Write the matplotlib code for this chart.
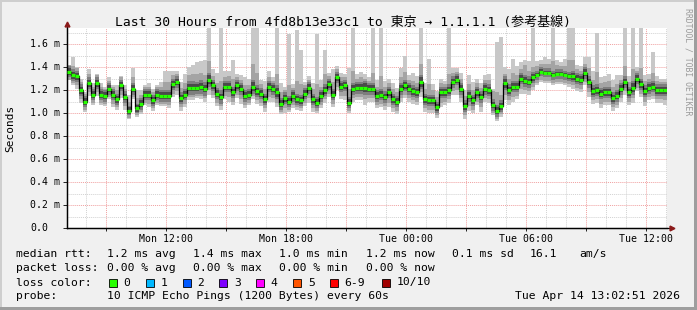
import numpy as np
import matplotlib
matplotlib.use('Agg')
import matplotlib.pyplot as plt
import matplotlib.transforms as mtransforms
from matplotlib.patches import Rectangle

mono = 'DejaVu Sans Mono'
W, H = 697, 310

# median rtt per 12 min step (ms), Mon 07:02 -> Tue 13:02
med = [1.36, 1.33, 1.32, 1.20, 1.10, 1.26, 1.16, 1.26, 1.16, 1.15,
       1.21, 1.16, 1.12, 1.24, 1.14, 1.02, 1.21, 1.04, 1.08, 1.16,
       1.16, 1.11, 1.16, 1.15, 1.15, 1.15, 1.25, 1.27, 1.13, 1.16,
       1.22, 1.22, 1.22, 1.23, 1.21, 1.29, 1.24, 1.17, 1.14, 1.23,
       1.23, 1.18, 1.24, 1.21, 1.15, 1.16, 1.23, 1.19, 1.17, 1.12,
       1.23, 1.21, 1.18, 1.08, 1.13, 1.10, 1.15, 1.12, 1.11, 1.17,
       1.22, 1.12, 1.09, 1.15, 1.20, 1.25, 1.16, 1.31, 1.23, 1.24,
       1.09, 1.21, 1.22, 1.22, 1.22, 1.21, 1.21, 1.15, 1.16, 1.14,
       1.18, 1.12, 1.10, 1.21, 1.24, 1.21, 1.19, 1.18, 1.27, 1.12,
       1.11, 1.11, 1.05, 1.18, 1.18, 1.20, 1.27, 1.29, 1.21, 1.06,
       1.15, 1.11, 1.18, 1.14, 1.21, 1.20, 1.07, 1.02, 1.06, 1.26,
       1.20, 1.23, 1.23, 1.30, 1.28, 1.27, 1.31, 1.33, 1.36, 1.35,
       1.35, 1.33, 1.34, 1.34, 1.33, 1.32, 1.32, 1.30, 1.29, 1.35,
       1.27, 1.19, 1.20, 1.17, 1.18, 1.18, 1.13, 1.15, 1.21, 1.27,
       1.18, 1.22, 1.30, 1.25, 1.19, 1.22, 1.23, 1.20, 1.20, 1.20]

# smoke spread around the median, in 1/100 ms
# slowest ping (p10) above median
up_out = [6, 16, 8, 10, 8, 12, 10, 8, 10, 8,
          10, 8, 12, 8, 10, 14, 18, 16, 12, 8,
          10, 10, 8, 12, 22, 22, 12, 10, 14, 18,
          18, 20, 22, 22, 25, 60, 14, 18, 60, 14,
          14, 28, 10, 12, 16, 14, 60, 60, 12, 16,
          14, 10, 60, 18, 10, 59, 10, 60, 44, 10,
          10, 14, 60, 14, 35, 10, 22, 10, 12, 10,
          30, 60, 12, 14, 12, 10, 60, 14, 60, 14,
          12, 14, 12, 18, 26, 12, 16, 14, 60, 14,
          36, 14, 14, 12, 10, 60, 12, 10, 14, 14,
          18, 16, 12, 12, 12, 14, 14, 60, 60, 14,
          18, 24, 18, 14, 18, 18, 60, 12, 10, 14,
          12, 60, 12, 10, 14, 60, 60, 12, 12, 14,
          22, 18, 50, 14, 14, 16, 16, 18, 12, 60,
          14, 60, 10, 60, 14, 12, 30, 12, 10, 10]
# fastest ping (p1) below median
dn_out = [7, 9, 11, 11, 9, 11, 9, 11, 9, 9,
          9, 11, 9, 11, 11, 7, 9, 7, 9, 9,
          11, 9, 9, 9, 9, 11, 11, 11, 11, 11,
          11, 11, 9, 11, 11, 13, 11, 11, 11, 11,
          13, 11, 11, 13, 11, 9, 11, 11, 11, 11,
          13, 11, 13, 9, 13, 9, 11, 9, 9, 11,
          13, 11, 9, 11, 11, 11, 11, 11, 11, 13,
          9, 11, 11, 11, 15, 11, 11, 11, 11, 11,
          13, 11, 11, 11, 11, 11, 11, 11, 13, 11,
          11, 11, 9, 13, 11, 11, 11, 13, 11, 11,
          13, 11, 11, 13, 11, 11, 9, 9, 9, 15,
          13, 13, 11, 13, 11, 11, 11, 9, 9, 9,
          9, 9, 9, 9, 9, 9, 11, 11, 11, 11,
          13, 11, 11, 13, 11, 11, 11, 11, 11, 11,
          11, 13, 11, 11, 13, 11, 11, 11, 11, 13]
# p9 / p2
up_mid = [6, 8, 7, 7, 7, 8, 7, 7, 7, 6, 7, 7, 8, 7, 7, 8,
          10, 9, 8, 7, 7, 7, 7, 8, 12, 12, 8, 7, 9, 10, 11, 12,
          12, 12, 12, 16, 8, 9, 14, 8, 9, 12, 7, 8, 9, 8, 20, 16,
          8, 9, 8, 7, 16, 10, 7, 14, 7, 16, 14, 7, 7, 9, 16, 8,
          14, 7, 11, 7, 8, 7, 12, 16, 8, 9, 8, 7, 14, 8, 16, 9,
          8, 9, 8, 10, 12, 8, 9, 8, 16, 9, 14, 9, 9, 8, 7, 14,
          8, 7, 9, 9, 10, 9, 8, 8, 8, 9, 12, 16, 10, 8, 10, 12,
          10, 8, 14, 10, 9, 8, 7, 8, 8, 12, 8, 7, 8, 14, 14, 8,
          8, 8, 12, 10, 16, 9, 9, 10, 10, 10, 8, 14, 9, 16, 7, 14,
          9, 8, 12, 8, 7, 7]
dn_mid = [7, 7, 8, 8, 7, 8, 7, 8, 7, 7, 7, 8, 7, 8, 8, 6,
          7, 6, 7, 7, 8, 7, 7, 7, 7, 8, 8, 8, 8, 8, 8, 8,
          7, 8, 8, 9, 8, 8, 8, 8, 9, 8, 8, 9, 8, 7, 8, 8,
          8, 8, 9, 8, 9, 7, 9, 7, 8, 7, 7, 8, 9, 8, 7, 8,
          8, 8, 8, 8, 8, 9, 7, 8, 8, 8, 10, 8, 8, 8, 8, 8,
          9, 8, 8, 8, 8, 8, 8, 8, 9, 8, 8, 8, 7, 9, 8, 8,
          8, 9, 8, 8, 9, 8, 8, 9, 8, 8, 7, 7, 7, 10, 9, 9,
          8, 9, 8, 8, 8, 7, 7, 7, 7, 7, 7, 7, 7, 7, 8, 8,
          8, 8, 9, 8, 8, 9, 8, 8, 8, 8, 8, 8, 8, 9, 8, 8,
          9, 8, 8, 8, 8, 9]
# p8 / p3 and p7 / p4 half widths
dark = [5, 5, 5, 5, 5, 5, 5, 5, 5, 5, 5, 5, 5, 5, 5, 4,
        5, 4, 5, 5, 5, 5, 5, 5, 5, 5, 5, 5, 5, 5, 6, 6,
        5, 6, 6, 6, 5, 5, 6, 5, 5, 5, 5, 5, 5, 5, 6, 5,
        5, 5, 5, 5, 6, 5, 5, 5, 5, 5, 5, 5, 5, 5, 5, 5,
        5, 5, 5, 5, 5, 5, 5, 5, 5, 5, 6, 5, 5, 5, 5, 5,
        5, 5, 5, 5, 5, 5, 5, 5, 6, 5, 5, 5, 5, 5, 5, 5,
        5, 5, 5, 5, 5, 5, 5, 5, 5, 5, 5, 5, 5, 6, 5, 5,
        5, 5, 5, 5, 5, 4, 4, 4, 4, 4, 4, 4, 4, 4, 5, 5,
        5, 5, 5, 5, 5, 5, 5, 5, 5, 5, 5, 5, 5, 6, 5, 5,
        5, 5, 5, 5, 5, 5]
core = [3, 3, 3, 3, 3, 3, 3, 3, 3, 3, 3, 3, 3, 3, 3, 3,
        3, 3, 3, 3, 3, 3, 3, 3, 3, 3, 3, 3, 3, 3, 3, 3,
        3, 3, 3, 4, 3, 3, 3, 3, 3, 3, 3, 3, 3, 3, 4, 3,
        3, 3, 3, 3, 4, 3, 3, 3, 3, 3, 3, 3, 3, 3, 3, 3,
        3, 3, 3, 3, 3, 3, 3, 3, 3, 3, 4, 3, 3, 3, 3, 3,
        3, 3, 3, 3, 3, 3, 3, 3, 4, 3, 3, 3, 3, 3, 3, 3,
        3, 3, 3, 3, 3, 3, 3, 3, 3, 3, 3, 3, 3, 4, 3, 3,
        3, 3, 3, 3, 3, 2, 2, 2, 2, 2, 2, 2, 2, 2, 3, 3,
        3, 3, 3, 3, 3, 3, 3, 3, 3, 3, 3, 3, 3, 4, 3, 3,
        3, 3, 3, 3, 3, 3]

xtick_labels = {12: 'Mon 12:00', 18: 'Mon 18:00', 24: 'Tue 00:00',
                30: 'Tue 06:00', 36: 'Tue 12:00'}
loss_labels = ['0', '1', '2', '3', '4', '5', '6-9', '10/10']
loss_colors = ['#26ff00', '#00b8ff', '#0059ff', '#7e00ff',
               '#ff00ff', '#ff5500', '#ff0000', '#a10000']

# ---------------------------------------------------------------

def fx(x):
    return x / W


def fy(y):
    return 1 - y / H


fig = plt.figure(figsize=(W / 100, H / 100), dpi=100, facecolor='#f0f0f0')
for (x0, y0, w, h, c) in [(0, 0, 2, H, '#cecece'), (0, 0, W, 2, '#cecece'),
                          (W - 3, 0, 3, H, '#9e9e9e'), (0, H - 3, W, 3, '#9e9e9e')]:
    fig.patches.append(Rectangle((fx(x0), fy(y0 + h)), w / W, h / H,
                                 transform=fig.transFigure, fc=c, ec='none'))

ax = fig.add_axes([fx(67), fy(228), 600 / W, 200 / H])
ax.set_facecolor('white')

t0 = 7 + 2 / 60 + 51 / 3600
n = len(med)
edges = t0 + 0.2 * np.arange(n + 1)
m = np.array(med)


def ext(a):
    return np.append(a, a[-1])


o = lambda a: np.array(a) / 100.0
layers = [(m - o(dn_out), m + o(up_out), '#c8c8c8'),
          (m - o(dn_mid), m + o(up_mid), '#a4a4a4'),
          (m - o(dark), m + o(dark), '#7e7e7e'),
          (m - o(core), m + o(core), '#4a4a4a')]
for lo, hi, c in layers:
    ax.fill_between(edges, ext(lo), ext(hi), step='post', color=c, lw=0, zorder=1)

ax.plot(edges, ext(m), drawstyle='steps-post', color='black', lw=0.9, zorder=2)
ax.hlines(m, edges[:-1], edges[1:], colors=loss_colors[0], lw=2.3, zorder=3)

ax.set_xlim(t0, t0 + 30)
ax.set_ylim(0, 1.74)

ax.set_xticks(np.arange(9, 37.1, 3))
ax.set_xticks(np.arange(8, 38, 1), minor=True)
ax.set_xticklabels([xtick_labels.get(int(v), '') for v in np.arange(9, 37.1, 3)],
                   fontfamily=mono, fontsize=7.1)
ax.set_yticks(np.arange(0, 1.61, 0.2))
ax.set_yticks(np.arange(0.1, 1.75, 0.1), minor=True)
ax.set_yticklabels([])
ax.tick_params(axis='x', which='major', length=2, width=0.6, pad=2.5)
ax.tick_params(axis='x', which='minor', length=0)
ax.tick_params(axis='y', which='major', length=3, width=0.6)
ax.tick_params(axis='y', which='minor', length=0)

ax.set_axisbelow(True)
ax.grid(which='minor', color='#d2d2d2', ls=(0, (1, 1)), lw=0.7)
ax.grid(which='major', color='#f0a0a0', ls=(0, (1, 1)), lw=0.7)

for s in ['top', 'right']:
    ax.spines[s].set_visible(False)
for s in ['left', 'bottom']:
    ax.spines[s].set_linewidth(0.9)

ax.plot([0, 1.006], [0, 0], transform=ax.transAxes, color='black', lw=0.9, clip_on=False)
ax.plot([0, 0], [0, 1.01], transform=ax.transAxes, color='black', lw=0.9, clip_on=False)
ax.plot([1.008], [0], transform=ax.transAxes, marker='>', ms=3.5, color='#8b1a1a',
        clip_on=False)
ax.plot([0], [1.02], transform=ax.transAxes, marker='^', ms=3.5, color='#8b1a1a',
        clip_on=False)

trans = mtransforms.blended_transform_factory(fig.transFigure, ax.transData)
for v in np.arange(0, 1.61, 0.2):
    lab = '0.0' if v == 0 else f'{v:.1f} m'
    ax.text(fx(30), v, lab, transform=trans, ha='left', va='center',
            fontfamily=mono, fontsize=7.1)

fig.text(fx(10.5), fy(128), 'Seconds', rotation=90, ha='center', va='center',
         fontfamily=mono, fontsize=8)
fig.text(fx(688), fy(62), 'RRDTOOL / TOBI OETIKER', rotation=-90, ha='center',
         va='center', fontfamily=mono, fontsize=5.9, color='#9a9a9a')

fig.text(fx(343), fy(22), 'Last 30 Hours from 4fd8b13e33c1 to 東京 → 1.1.1.1 (参考基線)',
         ha='center', va='center', fontfamily=[mono, 'Noto Sans CJK JP'], fontsize=9.4)

fs = 8.2
cols = [16, 107, 193, 279, 366, 452]
row1 = ['median rtt:', '1.2 ms avg', '1.4 ms max', '1.0 ms min', '1.2 ms now', '0.1 ms sd']
row2 = ['packet loss:', '0.00 % avg', '0.00 % max', '0.00 % min', '0.00 % now']
for x, s in zip(cols, row1):
    fig.text(fx(x), fy(254.3), s, ha='left', va='center', fontfamily=mono, fontsize=fs)
fig.text(fx(530), fy(254.3), '16.1', ha='left', va='center', fontfamily=mono, fontsize=fs)
fig.text(fx(579), fy(254.3), 'am/s', ha='left', va='center', fontfamily=mono, fontsize=fs)
for x, s in zip(cols, row2):
    fig.text(fx(x), fy(268.3), s, ha='left', va='center', fontfamily=mono, fontsize=fs)

fig.text(fx(16), fy(282.5), 'loss color:', ha='left', va='center', fontfamily=mono, fontsize=fs)
box_x = [108.7, 145.7, 183, 219.3, 256.3, 293.3, 330, 381.7]
for bx, lab, c in zip(box_x, loss_labels, loss_colors):
    fig.patches.append(Rectangle((fx(bx), fy(286.5)), 8 / W, 8 / H, transform=fig.transFigure,
                                 fc=c, ec='black', lw=0.6))
    fig.text(fx(bx + 14.5), fy(282.5), lab, ha='left', va='center', fontfamily=mono, fontsize=fs)

fig.text(fx(16), fy(296.3), 'probe:', ha='left', va='center', fontfamily=mono, fontsize=fs)
fig.text(fx(107), fy(296.3), '10 ICMP Echo Pings (1200 Bytes) every 60s', ha='left',
         va='center', fontfamily=mono, fontsize=fs)
fig.text(fx(680), fy(296.3), 'Tue Apr 14 13:02:51 2026', ha='right', va='center',
         fontfamily=mono, fontsize=fs)

fig.savefig('out.png', dpi=100, facecolor=fig.get_facecolor())
